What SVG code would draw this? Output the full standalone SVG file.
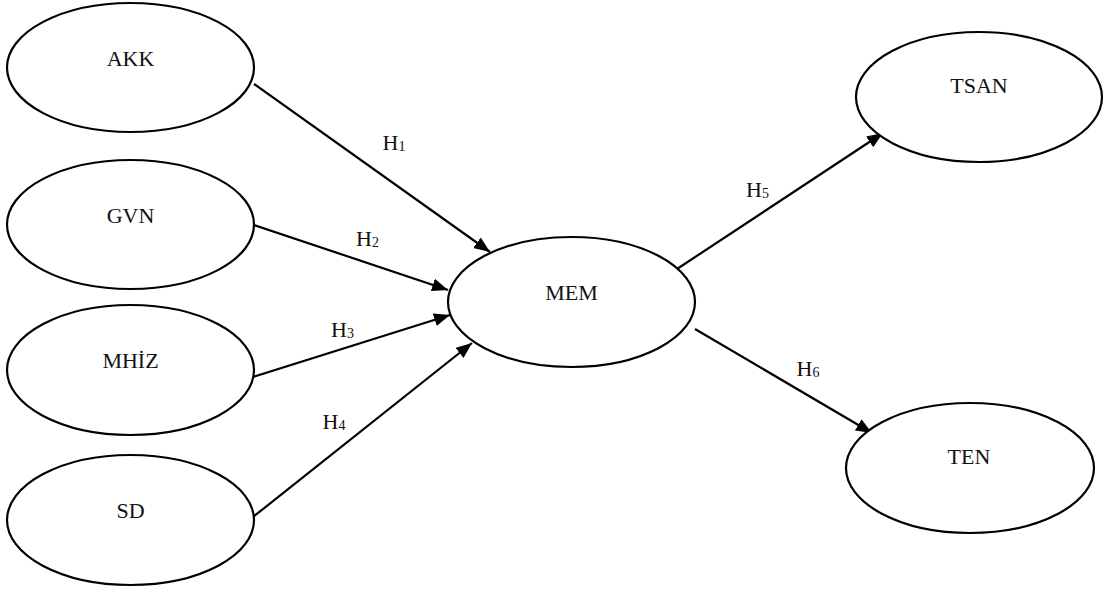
<svg xmlns="http://www.w3.org/2000/svg" width="1104" height="592" viewBox="0 0 1104 592">
<defs>
<style>
.node ellipse{fill:#fff;stroke:#000;stroke-width:2.2}
.node text{font-family:"Liberation Serif","Times New Roman",serif;font-size:22px;text-anchor:middle;fill:#111}
.edge{stroke:#000;stroke-width:2.2;fill:none;marker-end:url(#arr)}
.lbl{font-family:"Liberation Serif","Times New Roman",serif;font-size:22px;fill:#111}
.sub{font-size:14px}
</style>
<marker id="arr" markerUnits="userSpaceOnUse" markerWidth="18" markerHeight="14" refX="16" refY="6.5" orient="auto">
<path d="M0,0 L16,6.5 L0,13 z" fill="#000"/>
</marker>
</defs>
<rect width="1104" height="592" fill="#fff"/>
<g id="connectors">
<line class="edge" x1="254" y1="84" x2="490" y2="252"/>
<line class="edge" x1="254" y1="225" x2="448" y2="290"/>
<line class="edge" x1="253" y1="377" x2="450" y2="315"/>
<line class="edge" x1="253" y1="517" x2="472" y2="343"/>
<line class="edge" x1="677" y1="269" x2="883" y2="133"/>
<line class="edge" x1="695" y1="329" x2="872" y2="433"/>
<text class="lbl" x="382.5" y="150">H<tspan class="sub" dy="1">1</tspan></text>
<text class="lbl" x="356" y="246">H<tspan class="sub" dy="1">2</tspan></text>
<text class="lbl" x="331" y="337">H<tspan class="sub" dy="1">3</tspan></text>
<text class="lbl" x="322.5" y="429">H<tspan class="sub" dy="1">4</tspan></text>
<text class="lbl" x="746" y="197">H<tspan class="sub" dy="1">5</tspan></text>
<text class="lbl" x="796.5" y="376">H<tspan class="sub" dy="1">6</tspan></text>
</g>
<g id="AKK" class="node"><ellipse cx="130.5" cy="67.5" rx="123.5" ry="64.5"/><text x="130.5" y="65.5">AKK</text></g>
<g id="GVN" class="node"><ellipse cx="130.5" cy="224.5" rx="123.5" ry="64.5"/><text x="130.5" y="222.5">GVN</text></g>
<g id="MHIZ" class="node"><ellipse cx="130.5" cy="370" rx="123.5" ry="65"/><text x="130.5" y="368">MHİZ</text></g>
<g id="SD" class="node"><ellipse cx="130.5" cy="520" rx="123.5" ry="65"/><text x="130.5" y="518">SD</text></g>
<g id="MEM" class="node"><ellipse cx="571.5" cy="302" rx="123.5" ry="65"/><text x="571.5" y="300">MEM</text></g>
<g id="TSAN" class="node"><ellipse cx="979" cy="97" rx="123" ry="65"/><text x="979" y="93">TSAN</text></g>
<g id="TEN" class="node"><ellipse cx="970" cy="468" rx="124" ry="65"/><text x="969" y="464">TEN</text></g>
</svg>
